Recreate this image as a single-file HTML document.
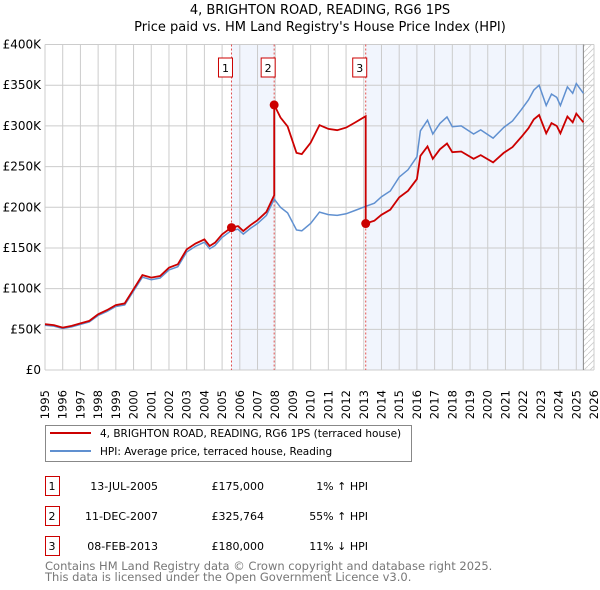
<!DOCTYPE html>
<html><head><meta charset="utf-8"><style>
body{margin:0;background:#fff;}
svg{display:block;font-family:"DejaVu Sans","Liberation Sans",sans-serif;}
</style></head><body>
<svg id="chart" width="600" height="590" viewBox="0 0 600 590">
<text x="320" y="14" text-anchor="middle" font-size="13">4, BRIGHTON ROAD, READING, RG6 1PS</text>
<text x="320" y="31" text-anchor="middle" font-size="13">Price paid vs. HM Land Registry's House Price Index (HPI)</text>
<g id="plot"></g>
<g>
<rect x="45.5" y="425.5" width="366" height="36" fill="#fff" stroke="#888"/>
<line x1="50" y1="433" x2="91" y2="433" stroke="#cc0000" stroke-width="2"/>
<text x="100" y="437" font-size="10.5">4, BRIGHTON ROAD, READING, RG6 1PS (terraced house)</text>
<line x1="50" y1="451" x2="91" y2="451" stroke="#6090d0" stroke-width="2"/>
<text x="100" y="455" font-size="10.5">HPI: Average price, terraced house, Reading</text>
</g>
<g id="table" font-size="11"></g>
<text x="45" y="570" font-size="11.5" fill="#777">Contains HM Land Registry data © Crown copyright and database right 2025.</text>
<text x="45" y="581" font-size="11.5" fill="#777">This data is licensed under the Open Government Licence v3.0.</text>
</svg>
<script>
const hpiYears=[1995,1995.5,1996,1996.5,1997,1997.5,1998,1998.5,1999,1999.5,2000,2000.5,2001,2001.5,2002,2002.5,2003,2003.5,2004,2004.3,2004.6,2005,2005.5,2005.9,2006.2,2006.6,2007,2007.5,2007.94,2008.3,2008.7,2009.2,2009.5,2010,2010.5,2011,2011.5,2012,2012.5,2013.1,2013.6,2014,2014.5,2015,2015.5,2016,2016.2,2016.6,2016.9,2017.3,2017.7,2018,2018.5,2019.2,2019.6,2020.3,2020.9,2021.4,2021.9,2022.3,2022.6,2022.9,2023.3,2023.6,2023.9,2024.1,2024.5,2024.8,2025.0,2025.4];
const hpiValues=[55,54,51,53,56,59,67,72,78,80,97,114,111,113,123,127,145,152,157,149,153,163,171,173,167,174,180,190,210,200,193,172,171,180,194,191,190,192,196,201,205,213,220,237,246,262,294,307,290,303,311,299,300,290,295,285,298,306,320,332,344,350,325,339,335,325,348,340,352,340];
const saleYears=[2005.53,2007.94,2013.11];
const salePrices=[175000,325764,180000];
const saleLabels=["1","2","3"];
const saleDates=["13-JUL-2005","11-DEC-2007","08-FEB-2013"];
const saleDiffs=["1% \u2191 HPI","55% \u2191 HPI","11% \u2193 HPI"];
const yTickValues=[0,50,100,150,200,250,300,350,400];
const yTickLabels=["£0","£50K","£100K","£150K","£200K","£250K","£300K","£350K","£400K"];
const xTickYears=[1995,1996,1997,1998,1999,2000,2001,2002,2003,2004,2005,2006,2007,2008,2009,2010,2011,2012,2013,2014,2015,2016,2017,2018,2019,2020,2021,2022,2023,2024,2025,2026];

const NS="http://www.w3.org/2000/svg";
const X0=45,X1=594,Y0=370,Y1=44.5;
const xs=y=>X0+(y-1995)/(2026-1995)*(X1-X0);
const ys=v=>Y0-v/400*(Y0-Y1);
const plot=document.getElementById('plot');
function mk(tag,attrs,parent){const e=document.createElementNS(NS,tag);for(const k in attrs)e.setAttribute(k,attrs[k]);(parent||plot).appendChild(e);return e;}
function hpiAt(t){for(let i=0;i<hpiYears.length-1;i++){if(t<=hpiYears[i+1]){const f=(t-hpiYears[i])/(hpiYears[i+1]-hpiYears[i]);return hpiValues[i]+f*(hpiValues[i+1]-hpiValues[i]);}}return hpiValues[hpiValues.length-1];}
const endYear=hpiYears[hpiYears.length-1];
let e=mk('rect',{x:xs(saleYears[0]),y:Y1,width:xs(saleYears[1])-xs(saleYears[0]),height:Y0-Y1,fill:'#eef2fc',opacity:0.8});


e=mk('rect',{x:xs(saleYears[2]),y:Y1,width:xs(endYear)-xs(saleYears[2]),height:Y0-Y1,fill:'#eef2fc',opacity:0.8});


const defs=mk('defs',{});
const pat=mk('pattern',{id:'hatch',width:6,height:6,patternUnits:'userSpaceOnUse'},defs);
mk('path',{d:'M0,6 L6,0',stroke:'#ccc','stroke-width':0.8},pat);
e=mk('rect',{x:xs(endYear),y:Y1,width:X1-xs(endYear),height:Y0-Y1,fill:'url(#hatch)'});


xTickYears.forEach(y=>{const g=mk('line',{x1:xs(y),x2:xs(y),y1:Y1,y2:Y0,stroke:'#ccc','stroke-width':1});


const t=mk('text',{x:0,y:0,transform:`translate(${xs(y)+4},${Y0+20}) rotate(-90)`,'font-size':11.5,'text-anchor':'end'});t.textContent=y;

});
yTickValues.forEach((v,i)=>{const g=mk('line',{x1:X0,x2:X1,y1:ys(v),y2:ys(v),stroke:'#ccc','stroke-width':1});


const t=mk('text',{x:X0-4,y:ys(v)+4,'font-size':12,'text-anchor':'end'});t.textContent=yTickLabels[i];

});
e=mk('line',{x1:xs(endYear),x2:xs(endYear),y1:Y1,y2:Y0,stroke:'#888','stroke-width':1});


saleYears.forEach((s,i)=>{const l=mk('line',{x1:xs(s),x2:xs(s),y1:Y1,y2:Y0,stroke:'#e05050','stroke-width':1,'stroke-dasharray':'2,2'});


const r=mk('rect',{x:xs(s)-13,y:58,width:14,height:19,fill:'#fff',stroke:'#cc0000'});


const t=mk('text',{x:xs(s)-6,y:72,'font-size':11,'text-anchor':'middle'});t.textContent=saleLabels[i];

});
let pts=hpiYears.map((y,i)=>xs(y).toFixed(1)+','+ys(hpiValues[i]).toFixed(1)).join(' ');
e=mk('polyline',{points:pts,fill:'none',stroke:'#6090d0','stroke-width':1.5});


function ratioIdx(t){let k=0;for(let i=0;i<saleYears.length;i++)if(t>=saleYears[i])k=i;return k;}
let rp=[];
const ratios=saleYears.map((s,i)=>salePrices[i]/1000/hpiAt(s));
for(let i=0;i<hpiYears.length;i++){
  const t=hpiYears[i];
  for(let j=1;j<saleYears.length;j++){if(hpiYears[i-1]!==undefined&&hpiYears[i-1]<saleYears[j]&&t>=saleYears[j]){
    rp.push([saleYears[j],hpiAt(saleYears[j])*ratios[j-1]]);rp.push([saleYears[j],salePrices[j]/1000]);}}
  rp.push([t,hpiValues[i]*ratios[ratioIdx(t)]]);
}
e=mk('polyline',{points:rp.map(p=>xs(p[0]).toFixed(1)+','+ys(p[1]).toFixed(1)).join(' '),fill:'none',stroke:'#cc0000','stroke-width':1.8});


saleYears.forEach((s,i)=>{const c=mk('circle',{cx:xs(s),cy:ys(salePrices[i]/1000),r:4.5,fill:'#cc0000'});

});
const tb=document.getElementById('table');
saleYears.forEach((s,i)=>{const yy=476+i*30;
const r=mk('rect',{x:45.5,y:yy+0.5,width:14,height:19,fill:'#fff',stroke:'#cc0000'},tb);


const cells=[[52,'middle',saleLabels[i],'num'],[158,'end',saleDates[i],'date'],[264,'end','£'+salePrices[i].toLocaleString('en-GB'),'price'],[368,'end',saleDiffs[i],'hpi-diff']];
cells.forEach(c=>{const t=mk('text',{x:c[0],y:yy+14,'text-anchor':c[1]},tb);t.textContent=c[2];

});});
</script>
</body></html>
